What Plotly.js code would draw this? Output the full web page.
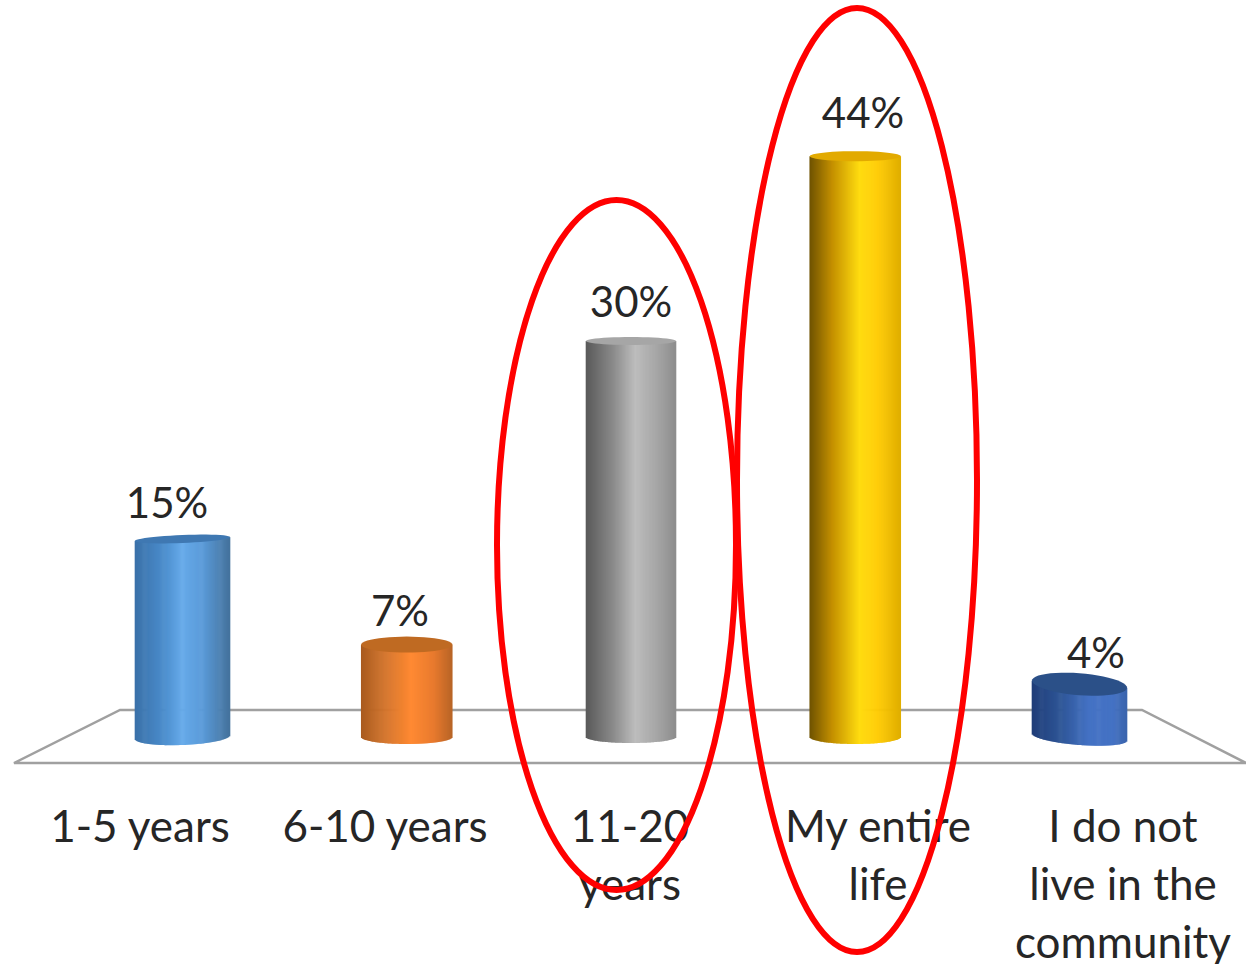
<!DOCTYPE html>
<html>
<head>
<meta charset="utf-8">
<script src="https://cdn.plot.ly/plotly-3.0.1.min.js"></script>
<style>html,body{margin:0;padding:0;background:#fff;overflow:hidden}#chart{width:1246px;height:964px}</style>
</head>
<body>
<div id="chart"></div>
<script>
// ---- data ----
const categories = [["1-5 years"], ["6-10 years"], ["11-20", "years"], ["My entire", "life"], ["I do not", "live in the", "community"]];
const values = [15, 7, 30, 44, 4];

// ---- styling ----
const W = 1246, H = 964, BASE_PX = 737, PX_PER_UNIT = 13.2, BAR0_PX = 182.5, STEP_PX = 224.25;
const barWidthsPx = [95, 91, 90, 91, 95];
const capRadiusPx = [4, 8, 4, 5, 11];
const footRadiusPx = [8, 7, 6, 7, 8];
const tiltSlope = [-0.04, 0, 0, 0, 0.075];
const capColors = ["#3f78b2", "#bf6a22", "#a6a6a6", "#e2aa00", "#2b5088"];
const gradients = [
  [[0, "#3a70a8"], [0.3, "#4a8ccb"], [0.5, "#66aaea"], [0.72, "#5a9ad8"], [1, "#44729c"]],
  [[0, "#a85a1f"], [0.3, "#d8752a"], [0.55, "#ff8a33"], [0.8, "#e87a2e"], [1, "#b86426"]],
  [[0, "#595959"], [0.3, "#8a8a8a"], [0.55, "#bdbdbd"], [0.8, "#a5a5a5"], [1, "#8d8d8d"]],
  [[0, "#6e5200"], [0.25, "#c49000"], [0.55, "#ffdc10"], [0.75, "#ffcb00"], [1, "#e0ae00"]],
  [[0, "#1f3d78"], [0.3, "#2e5596"], [0.6, "#4472c4"], [0.85, "#4472c4"], [1, "#3b65ad"]]
];
const valueLabelXPx = [167, 400, 631, 863, 1096];
const valueLabelGapPx = [32, 29, 35, 39, 27];
const catLabelXPx = [140, 385, 630, 878, 1123];
const catLineYPx = [831, 889, 947];
const FONT = "Lato, 'Open Sans', sans-serif";
const TEXT_COLOR = "#262626";

// ---- scale helpers ----
const xOf = p => (p - BAR0_PX) / STEP_PX;
const yOf = p => (BASE_PX - p) / PX_PER_UNIT;
const hex = c => [1, 3, 5].map(i => parseInt(c.substr(i, 2), 16));
function gradColor(stops, t) {
  for (let i = 1; i < stops.length; i++) {
    if (t <= stops[i][0]) {
      const a = stops[i - 1], b = stops[i], f = (t - a[0]) / (b[0] - a[0]);
      const ca = hex(a[1]), cb = hex(b[1]);
      return "rgb(" + ca.map((v, k) => Math.round(v + (cb[k] - v) * f)).join(",") + ")";
    }
  }
  return stops[stops.length - 1][1];
}

// ---- cylinders: each bar is a row of thin strips up to its value ----
const STRIPS = 90;
const traces = values.map((v, i) => {
  const w = barWidthsPx[i] / STEP_PX, xs = [], ys = [], bases = [], cols = [], widths = [];
  for (let s = 0; s < STRIPS; s++) {
    const t = (s + 0.5) / STRIPS, u = 2 * t - 1;
    const lean = -tiltSlope[i] * u * barWidthsPx[i] / 2 / PX_PER_UNIT;
    const base = -footRadiusPx[i] * Math.sqrt(1 - u * u) / PX_PER_UNIT + lean;
    xs.push(i + (t - 0.5) * w);
    bases.push(base);
    ys.push(v + lean - base);
    cols.push(gradColor(gradients[i], t));
    widths.push(w / STRIPS * 1.6);
  }
  return { type: "bar", x: xs, y: ys, base: bases, width: widths, hoverinfo: "skip",
           marker: { color: cols, line: { width: 0 } }, showlegend: false };
});

// ---- text ----
traces.push({
  type: "scatter", mode: "text", cliponaxis: false, hoverinfo: "skip", showlegend: false,
  x: values.map((v, i) => xOf(valueLabelXPx[i])),
  y: values.map((v, i) => v + valueLabelGapPx[i] / PX_PER_UNIT),
  text: values.map(v => v + "%"),
  textposition: "middle center",
  textfont: { family: FONT, size: 42, color: TEXT_COLOR }
});
const catX = [], catY = [], catT = [];
categories.forEach((lines, i) => lines.forEach((line, j) => {
  catX.push(xOf(catLabelXPx[i])); catY.push(yOf(catLineYPx[j])); catT.push(line);
}));
traces.push({
  type: "scatter", mode: "text", cliponaxis: false, hoverinfo: "skip", showlegend: false,
  x: catX, y: catY, text: catT, textposition: "middle center",
  textfont: { family: FONT, size: 44, color: TEXT_COLOR }
});

// ---- shapes ----
const px = (x, y) => (x / W).toFixed(5) + "," + (1 - y / H).toFixed(5);
const floorPts = [[14, 763], [120, 710], [1142, 710], [1246, 763]];
const shapes = [{
  type: "path", xref: "paper", yref: "paper", layer: "below",
  path: "M " + floorPts.map(p => px(p[0], p[1])).join(" L ") + " Z",
  line: { color: "#a0a0a0", width: 2.5 }, fillcolor: "#ffffff"
}];
values.forEach((v, i) => {
  const rx = barWidthsPx[i] / 2, ry = capRadiusPx[i], pts = [];
  for (let a = 0; a < 48; a++) {
    const th = a / 48 * 2 * Math.PI, dx = rx * Math.cos(th), dy = ry * Math.sin(th) + tiltSlope[i] * dx;
    pts.push((i + dx / STEP_PX).toFixed(4) + "," + (v - dy / PX_PER_UNIT).toFixed(3));
  }
  shapes.push({ type: "path", xref: "x", yref: "y", layer: "above",
    path: "M " + pts.join(" L ") + " Z", fillcolor: capColors[i], line: { width: 0 } });
});
const ovals = [[497, 200, 736, 890], [737, 8, 977, 952]];
ovals.forEach(o => shapes.push({
  type: "circle", xref: "paper", yref: "paper", layer: "above",
  x0: o[0] / W, x1: o[2] / W, y0: 1 - o[3] / H, y1: 1 - o[1] / H,
  line: { color: "#ff0000", width: 6 }, fillcolor: "rgba(0,0,0,0)"
}));

const hiddenAxis = { showgrid: false, zeroline: false, showline: false, showticklabels: false, ticks: "", fixedrange: true };
Plotly.newPlot("chart", traces, {
  width: W, height: H,
  margin: { l: 0, r: 0, t: 0, b: 0, pad: 0 },
  paper_bgcolor: "#ffffff", plot_bgcolor: "rgba(0,0,0,0)",
  barmode: "overlay", showlegend: false,
  xaxis: Object.assign({ type: "linear", range: [xOf(0), xOf(W)] }, hiddenAxis),
  yaxis: Object.assign({ type: "linear", range: [yOf(H), yOf(0)] }, hiddenAxis),
  shapes: shapes
}, { displayModeBar: false, staticPlot: true });
</script>
</body>
</html>
